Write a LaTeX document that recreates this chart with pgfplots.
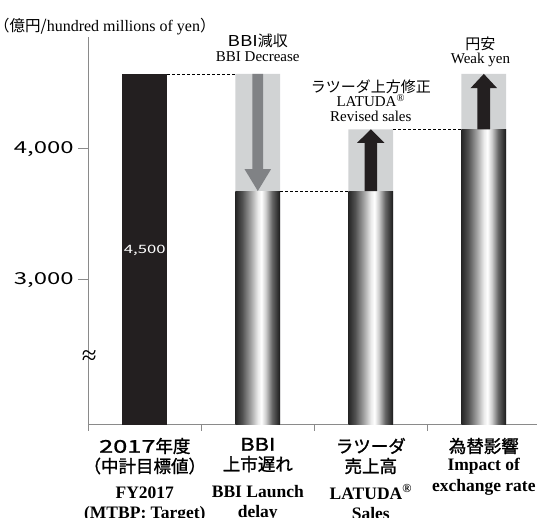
\documentclass[border=0pt]{standalone}
\usepackage{fontspec}
\setmainfont{Liberation Serif}
\newfontfamily\jp{Noto Sans CJK JP}
\newfontfamily\jpm[FakeBold=1.3]{Noto Sans CJK JP}
\newfontfamily\dg[FakeStretch=1.45]{Noto Sans CJK JP}
\newfontfamily\dgm[FakeStretch=1.45, FakeBold=1.3]{Noto Sans CJK JP}
\newfontfamily\lat[FakeStretch=1.25]{Noto Sans CJK JP}
\newfontfamily\latm[FakeStretch=1.25, FakeBold=1.3]{Noto Sans CJK JP}
\usepackage{pgfplots}
\pgfplotsset{compat=1.18}

\definecolor{barblack}{HTML}{231F20}
\definecolor{lightbox}{HTML}{D1D3D4}
\definecolor{arrowgray}{HTML}{808285}
\definecolor{axisgray}{HTML}{8A8A8A}

% metallic look of the result bars: dark - white - dark, left to right
\pgfdeclarehorizontalshading{barshade}{100bp}{%
  color(0bp)=(black!85); color(25bp)=(black!85);
  color(32.5bp)=(black!68); color(42.5bp)=(black!35);
  color(50bp)=(black!8); color(54bp)=(white);
  color(59bp)=(black!20); color(66bp)=(black!60);
  color(75bp)=(black!90); color(100bp)=(black!90)}

\begin{document}
\begin{tikzpicture}
\useasboundingbox (-88.3pt,-92.3pt) rectangle (449.7pt,424.7pt);
\begin{axis}[
  scale only axis,
  width=448.4pt, height=388pt,
  xmin=-0.5, xmax=3.468,
  ymin=1895, ymax=4857,
  axis x line=bottom, axis y line=left,
  axis line style={-, draw=axisgray, line width=1.1pt},
  clip mode=individual,
  no markers,
  tick align=outside,
  major tick length=10pt, minor tick length=6pt,
  ytick={3000,4000},
  yticklabels={{3,000},{4,000}},
  ytick style={draw=axisgray, line width=1pt},
  yticklabel style={font=\fontsize{16.5}{16.5}\selectfont\dg, inner sep=0pt, xshift=-4.5pt},
  xtick={0,1,2,3},
  minor xtick={-0.5,0.5,1.5,2.5},
  major x tick style={draw=none},
  minor x tick style={draw=axisgray, line width=1pt},
  xticklabel style={anchor=north, align=center, inner sep=0pt,
    font=\fontsize{17.5}{20}\selectfont, yshift=-3pt},
  xticklabels={
    {{\jpm{\dgm 2017}年度}\\{\jpm （中計目標値）}\\[6.3pt]{\bfseries FY2017}\\{\bfseries (MTBP: Target)}},
    {{\latm BBI}\\{\jpm 上市遅れ}\\[6.3pt]{\bfseries BBI Launch}\\{\bfseries delay}},
    {{\jpm ラツーダ}\\{\jpm 売上高}\\[6.3pt]{\bfseries LATUDA\textsuperscript{®}}\\{\bfseries Sales}},
    {{\jpm 為替影響}\\[-2.3pt]{\bfseries Impact of}\\[1.6pt]{\bfseries exchange rate}}},
  ylabel={{\fontsize{15.5}{15}\selectfont\jp （億円/}{\fontsize{16}{15}\selectfont hundred millions of yen}{\fontsize{15.5}{15}\selectfont\jp ）}},
  every axis y label/.style={at={(rel axis cs:0,1)}, anchor=west, inner sep=0pt,
    xshift=-94.3pt, yshift=10pt},
]

% light boxes behind the arrows
\addplot[ybar, bar width=0.395, fill=lightbox, draw=none] coordinates {(1,4573) (2,4150) (3,4573)};

% target bar
\addplot[ybar, bar width=0.395, fill=barblack, draw=none] coordinates {(0,4573)};

% result bars
\addplot[ybar, bar width=0.395, draw=none, shade, shading=barshade] coordinates {(1,3679)};
\addplot[ybar, bar width=0.395, draw=none, shade, shading=barshade] coordinates {(2,3679)};
\addplot[ybar, bar width=0.395, draw=none, shade, shading=barshade] coordinates {(3,4150)};

% arrows
\addplot[fill=arrowgray, draw=none] coordinates {(0.953,4573) (1.047,4573) (1.047,3847) (1.118,3847) (1,3679) (0.882,3847) (0.953,3847)} -- cycle;
\addplot[fill=barblack, draw=none] coordinates {(1.945,3679) (2.055,3679) (2.055,4047) (2.121,4047) (2,4150) (1.879,4047) (1.945,4047)} -- cycle;
\addplot[fill=barblack, draw=none] coordinates {(2.944,4150) (3.056,4150) (3.056,4464) (3.118,4464) (3,4573) (2.882,4464) (2.944,4464)} -- cycle;

% connectors
\addplot[black, line width=0.7pt, dash pattern=on 3pt off 2pt] coordinates {(0.197,4573) (0.803,4573)};
\addplot[black, line width=0.7pt, dash pattern=on 3pt off 2pt] coordinates {(1.197,3679) (1.803,3679)};
\addplot[black, line width=0.7pt, dash pattern=on 3pt off 2pt] coordinates {(2.197,4150) (2.803,4150)};

% labels
\node[text=white, font=\fontsize{11.5}{11.5}\selectfont\dg] at (axis cs:0,3224) {4,500};
\node[font=\fontsize{27}{27}\selectfont, inner sep=0pt] at (axis cs:-0.492,2405) {≈};

\node[anchor=base, font=\fontsize{15}{15}\selectfont\jp] at (axis cs:1,4782) {{\lat BBI}減収};
\node[anchor=base, font=\fontsize{15}{15}\selectfont] at (axis cs:1,4666) {BBI Decrease};
\node[anchor=base, font=\fontsize{15}{15}\selectfont\jp] at (axis cs:2,4431) {ラツーダ上方修正};
\node[anchor=base, font=\fontsize{15}{15}\selectfont] at (axis cs:2,4323) {LATUDA\textsuperscript{®}};
\node[anchor=base, font=\fontsize{15}{15}\selectfont] at (axis cs:2,4208) {Revised sales};
\node[anchor=base, font=\fontsize{15}{15}\selectfont\jp] at (axis cs:2.97,4763) {円安};
\node[anchor=base, font=\fontsize{15}{15}\selectfont] at (axis cs:2.97,4654) {Weak yen};
\end{axis}
\end{tikzpicture}
\end{document}
